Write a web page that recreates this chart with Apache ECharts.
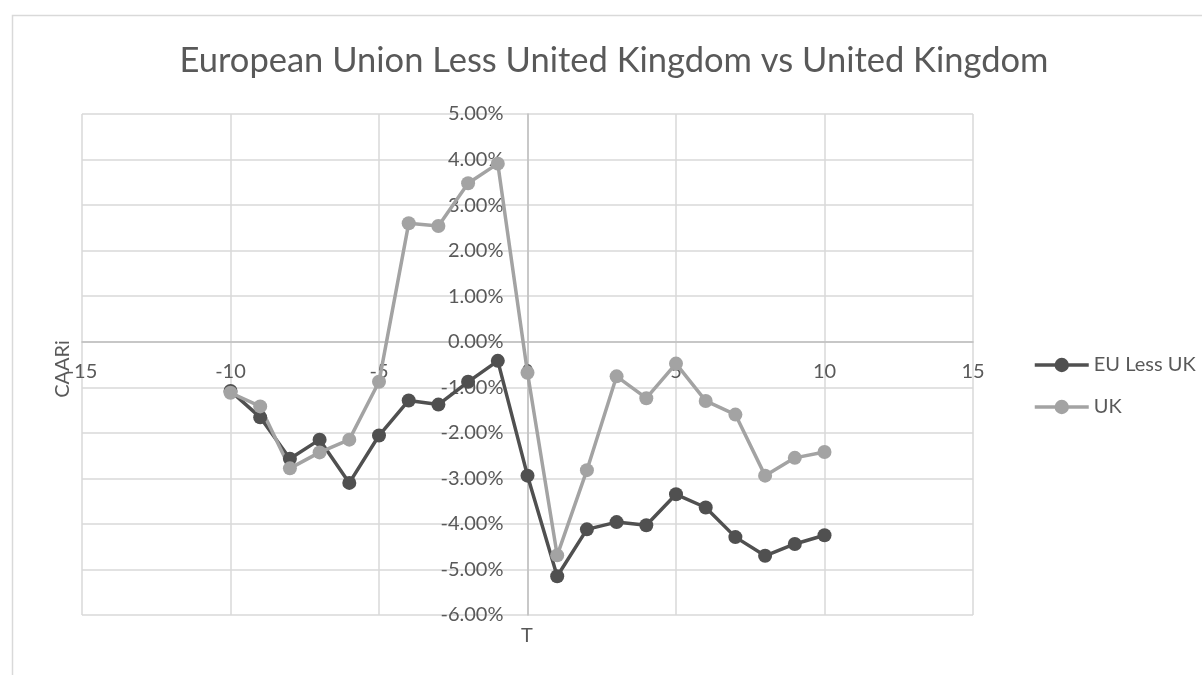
<!DOCTYPE html>
<html>
<head>
<meta charset="utf-8">
<script src="https://cdn.jsdelivr.net/npm/echarts@6/dist/echarts.min.js"></script>
<style>html,body{margin:0;padding:0;background:#fff}#c{width:1202px;height:675px}</style>
</head>
<body>
<div id="c"></div>
<script>
const titleText = 'European Union Less United Kingdom vs United Kingdom';
const xName = 'T';
const yName = 'CAARi';
const seriesNames = ['EU Less UK', 'UK'];
const tValues = [-10,-9,-8,-7,-6,-5,-4,-3,-2,-1,0,1,2,3,4,5,6,7,8,9,10];
const euLessUK = [-1.08,-1.66,-2.57,-2.15,-3.10,-2.06,-1.29,-1.38,-0.88,-0.42,-2.94,-5.15,-4.12,-3.96,-4.03,-3.35,-3.64,-4.29,-4.70,-4.44,-4.25];
const uk = [-1.12,-1.42,-2.78,-2.43,-2.15,-0.88,2.60,2.54,3.48,3.91,-0.68,-4.69,-2.82,-0.76,-1.24,-0.48,-1.30,-1.60,-2.94,-2.55,-2.42];

const FONT = 'Lato, "Open Sans", sans-serif';
const TXT = '#595959';
const chart = echarts.init(document.getElementById('c'));
const toPairs = arr => tValues.map((t, i) => [t, arr[i] / 100]);

// plot area
const GL = 82, GR = 973, GT = 114, GB = 615;
const xZeroPx = GL + (GR - GL) * (0 - (-15)) / 30;
const yZeroPx = GT + (GB - GT) * (0.05 - 0) / 0.11;

chart.setOption({
  backgroundColor: '#fff',
  animation: false,
  textStyle: { fontFamily: FONT },
  grid: { left: GL, right: 1202 - GR, top: GT, bottom: 675 - GB, containLabel: false },
  legend: {
    orient: 'vertical', left: 1028, top: 350, itemWidth: 54, itemHeight: 18, itemGap: 22,
    lineStyle: { width: 3.5 },
    textStyle: { color: TXT, fontSize: 20, fontFamily: FONT },
    data: seriesNames
  },
  xAxis: {
    type: 'value', min: -15, max: 15, interval: 5,
    position: 'bottom', offset: -(GB - yZeroPx),
    axisLine: { onZero: false, lineStyle: { color: '#bfbfbf', width: 1.5 } },
    axisTick: { show: false },
    axisLabel: { color: TXT, fontSize: 20, margin: 20, fontFamily: FONT },
    splitLine: { show: true, lineStyle: { color: '#d9d9d9', width: 1.5 } }
  },
  yAxis: {
    type: 'value', min: -0.06, max: 0.05, interval: 0.01,
    position: 'left', offset: -(xZeroPx - GL),
    axisLine: { show: true, onZero: false, lineStyle: { color: '#bfbfbf', width: 1.5 } },
    axisTick: { show: false },
    axisLabel: { color: TXT, fontSize: 20, margin: 24, fontFamily: FONT,
      formatter: v => (v * 100).toFixed(2) + '%' },
    splitLine: { show: true, lineStyle: { color: '#d9d9d9', width: 1.5 } }
  },
  graphic: [
    { type: 'rect', silent: true, shape: { x: 12.5, y: 15.5, width: 1300, height: 800 },
      style: { fill: null, stroke: '#d9d9d9', lineWidth: 1.5 } },
    { type: 'text', silent: true, x: 614, y: 61,
      style: { text: titleText, fill: TXT, font: '34.5px ' + FONT, textAlign: 'center', textVerticalAlign: 'middle' } },
    { type: 'text', silent: true, x: 527, y: 636,
      style: { text: xName, fill: TXT, font: '20px ' + FONT, textAlign: 'center', textVerticalAlign: 'middle' } },
    { type: 'text', silent: true, x: 63, y: 369, rotation: Math.PI / 2,
      style: { text: yName, fill: TXT, font: '20px ' + FONT, textAlign: 'center', textVerticalAlign: 'middle' } }
  ],
  series: [
    { name: seriesNames[0], type: 'line', data: toPairs(euLessUK), symbol: 'circle', symbolSize: 14,
      lineStyle: { color: '#505050', width: 3.5 }, itemStyle: { color: '#505050' } },
    { name: seriesNames[1], type: 'line', data: toPairs(uk), symbol: 'circle', symbolSize: 14,
      lineStyle: { color: '#a3a3a3', width: 3.5 }, itemStyle: { color: '#a3a3a3' } }
  ]
});
</script>
</body>
</html>
